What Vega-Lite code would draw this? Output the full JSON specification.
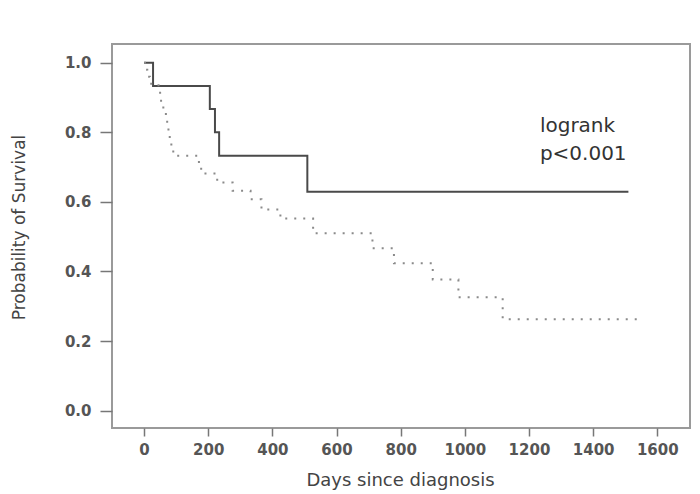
{
  "$schema": "https://vega.github.io/schema/vega-lite/v6.json",
  "autosize": {"type": "none"},
  "padding": {"left": 112, "top": 44, "right": 10, "bottom": 66},
  "width": 578,
  "height": 384,
  "background": "white",
  "config": {
    "view": {"stroke": "#9a9a9a", "strokeWidth": 2},
    "axis": {"grid": false, "domain": false, "tickColor": "#777", "tickWidth": 1.5,
      "labelFont": "DejaVu Sans", "labelFontWeight": "bold", "labelColor": "#555", "labelFontSize": 15,
      "titleFont": "DejaVu Sans", "titleFontWeight": "normal", "titleColor": "#444"}
  },
  "layer": [
    {
      "data": {"values": [
        {"group": "A", "days": 0, "surv": 1.0},
        {"group": "A", "days": 28, "surv": 0.933},
        {"group": "A", "days": 205, "surv": 0.867},
        {"group": "A", "days": 221, "surv": 0.8},
        {"group": "A", "days": 234, "surv": 0.733},
        {"group": "A", "days": 509, "surv": 0.629},
        {"group": "A", "days": 1510, "surv": 0.629},
        {"group": "B", "days": 0, "surv": 1.0},
        {"group": "B", "days": 3, "surv": 0.98},
        {"group": "B", "days": 10, "surv": 0.96},
        {"group": "B", "days": 18, "surv": 0.94},
        {"group": "B", "days": 45, "surv": 0.92},
        {"group": "B", "days": 50, "surv": 0.9},
        {"group": "B", "days": 53, "surv": 0.88},
        {"group": "B", "days": 60, "surv": 0.86},
        {"group": "B", "days": 68, "surv": 0.84},
        {"group": "B", "days": 72, "surv": 0.82},
        {"group": "B", "days": 76, "surv": 0.8},
        {"group": "B", "days": 80, "surv": 0.78},
        {"group": "B", "days": 85, "surv": 0.76},
        {"group": "B", "days": 91, "surv": 0.733},
        {"group": "B", "days": 171, "surv": 0.705},
        {"group": "B", "days": 178, "surv": 0.682},
        {"group": "B", "days": 228, "surv": 0.656},
        {"group": "B", "days": 276, "surv": 0.632},
        {"group": "B", "days": 332, "surv": 0.608},
        {"group": "B", "days": 366, "surv": 0.578},
        {"group": "B", "days": 425, "surv": 0.552},
        {"group": "B", "days": 527, "surv": 0.51},
        {"group": "B", "days": 712, "surv": 0.467},
        {"group": "B", "days": 779, "surv": 0.424},
        {"group": "B", "days": 900, "surv": 0.377},
        {"group": "B", "days": 980, "surv": 0.326},
        {"group": "B", "days": 1118, "surv": 0.263},
        {"group": "B", "days": 1551, "surv": 0.263}
      ]},
      "mark": {"type": "line", "interpolate": "step-after", "strokeWidth": 2},
      "encoding": {
        "x": {"field": "days", "type": "quantitative",
          "scale": {"domain": [-100, 1702], "nice": false, "zero": false},
          "axis": {"values": [0, 200, 400, 600, 800, 1000, 1200, 1400, 1600], "format": "d", "tickSize": 8, "labelPadding": 6,
            "title": "Days since diagnosis", "titleFontSize": 18, "titleX": 288, "titleY": 57,
            "titleBaseline": "alphabetic", "titleAnchor": null}},
        "y": {"field": "surv", "type": "quantitative",
          "scale": {"domain": [-0.05, 1.054], "nice": false, "zero": false},
          "axis": {"values": [0, 0.2, 0.4, 0.6, 0.8, 1.0], "format": ".1f", "tickSize": 12, "labelPadding": 9,
            "title": "Probability of Survival", "titleFontSize": 17, "titleX": -88, "titleY": 183,
            "titleAngle": -90, "titleAlign": "center", "titleBaseline": "alphabetic", "titleAnchor": null}},
        "color": {"field": "group", "type": "nominal", "scale": {"domain": ["A", "B"], "range": ["#4a4a4a", "#8a8a8a"]}, "legend": null},
        "strokeDash": {"field": "group", "type": "nominal", "scale": {"domain": ["A", "B"], "range": [[1, 0], [2, 7]]}, "legend": null}
      }
    },
    {
      "data": {"values": [{"note": "logrank p<0.001"}]},
      "mark": {"type": "text", "text": ["logrank", "p<0.001"], "font": "DejaVu Sans", "fontSize": 20, "lineHeight": 28,
        "align": "left", "baseline": "alphabetic", "color": "#333"},
      "encoding": {
        "x": {"datum": 1234, "type": "quantitative"},
        "y": {"datum": 0.802, "type": "quantitative"}
      }
    }
  ]
}
